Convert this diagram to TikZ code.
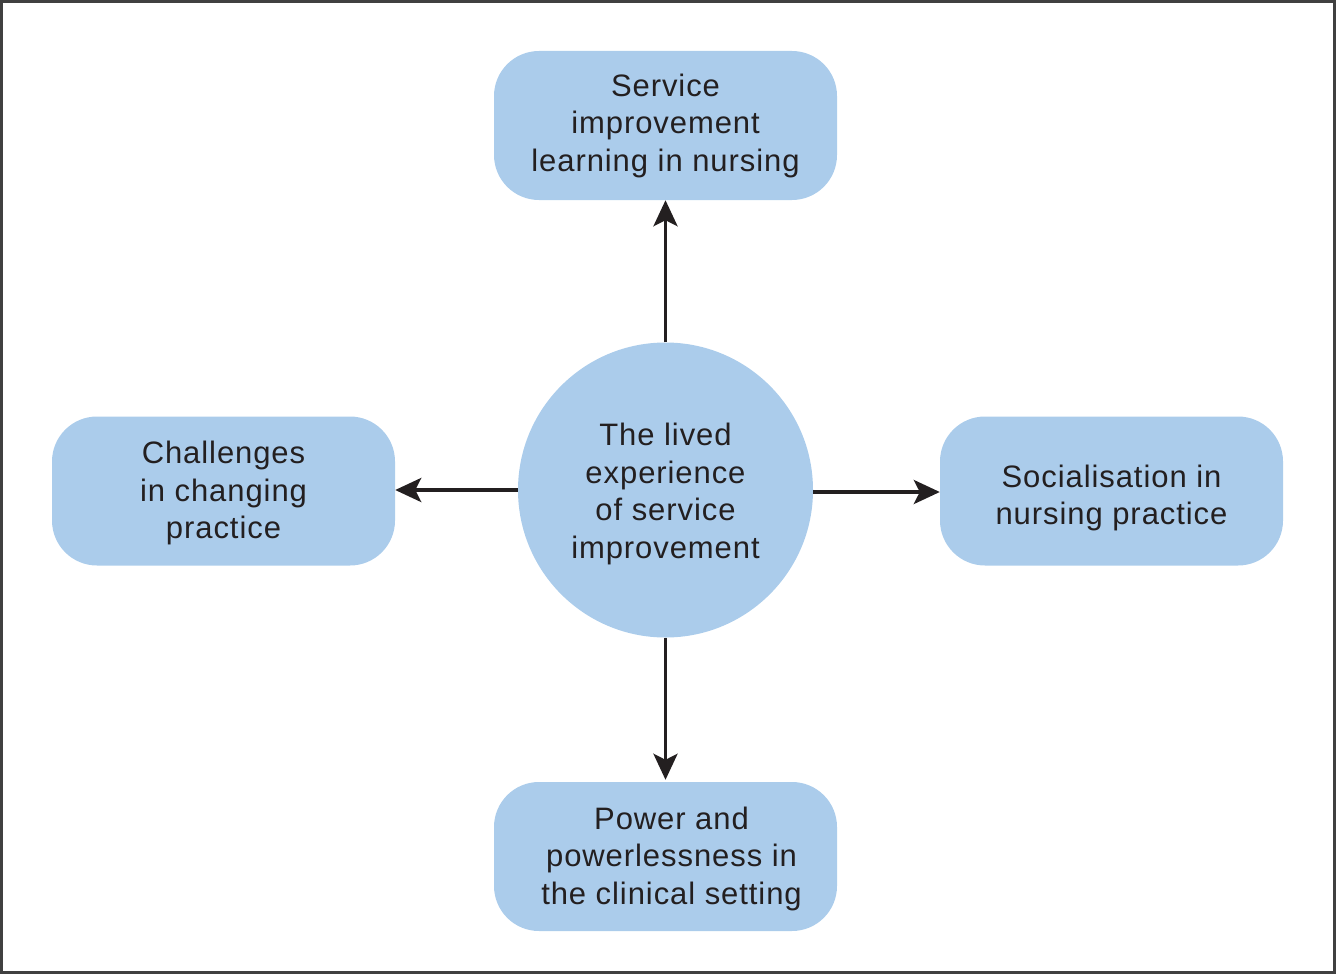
\documentclass[tikz,border=0pt]{standalone}
\usepackage{fontspec}
\setmainfont[LetterSpace=3]{Liberation Sans}
\usetikzlibrary{arrows.meta}
\definecolor{boxblue}{HTML}{ABCCEB}
\definecolor{ink}{HTML}{231F20}
\tikzset{
  txt/.style={align=center, text=ink, font=\fontsize{31}{37.5}\selectfont, inner sep=0pt},
  topic/.style={fill=boxblue, draw=none, rounded corners=45pt, minimum width=343pt, minimum height=149pt, inner sep=0pt},
  hub/.style={circle, fill=boxblue, draw=none, minimum size=295pt, inner sep=0pt},
  arr/.style={draw=ink, line width=3.8pt, -{Stealth[length=26pt, width=24pt, inset=6pt]}}
}
\begin{document}
\begin{tikzpicture}[x=1pt, y=-1pt]
\useasboundingbox (0,0) rectangle (1336,974);
\draw[line width=2.5pt, draw=black!75] (1.5,1.5) rectangle (1334.5,972.5);
\node[hub, label={[txt, yshift=-4pt]center:The lived\\experience\\of service\\improvement}] (c) at (665.5,490) {};
\node[topic, label={[txt, yshift=0pt]center:Service\\improvement\\learning in nursing}] (t) at (665.5,125.5) {};
\node[topic, label={[txt, yshift=-2pt]center:Challenges\\in changing\\practice}] (l) at (223.5,491) {};
\node[topic, label={[txt, yshift=-7pt]center:Socialisation in\\nursing practice}] (r) at (1111.5,491) {};
\node[topic, label={[txt, yshift=-2pt, xshift=6pt]center:Power and\\powerlessness in\\the clinical setting}] (b) at (665.5,856.5) {};
\draw[arr] (c.north) -- (t.south);
\draw[arr] (c.west) -- (c.west -| l.east);
\draw[arr] ([yshift=-2pt]c.east) -- ([yshift=-2pt]c.east -| r.west);
\draw[arr] (c.south) -- ([yshift=2pt]b.north);
\end{tikzpicture}
\end{document}
